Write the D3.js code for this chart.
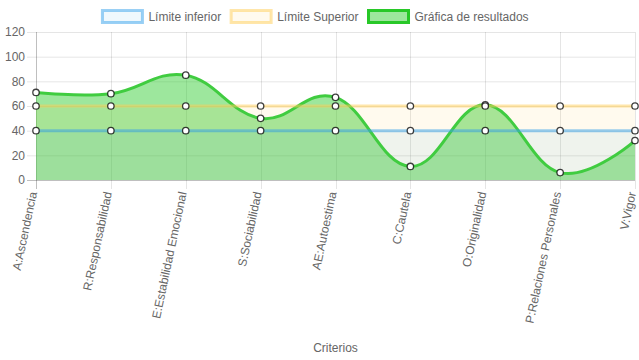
<!DOCTYPE html>
<html>
<head>
<meta charset="utf-8">
<script src="https://cdn.jsdelivr.net/npm/d3@7"></script>
<style>
  body { margin: 0; background: #fff; }
  svg { display: block; font-family: "Liberation Sans", Arial, Helvetica, sans-serif; }
</style>
</head>
<body>
<div id="container"></div>
<script>
"use strict";

// chart data
var criterios = ["A:Ascendencia", "R:Responsabilidad", "E:Estabilidad Emocional", "S:Sociabilidad",
    "AE:Autoestima", "C:Cautela", "O:Originalidad", "P:Relaciones Personales", "V:Vigor"];
var limiteInferior = [40, 40, 40, 40, 40, 40, 40, 40, 40];
var limiteSuperior = [60, 60, 60, 60, 60, 60, 60, 60, 60];
var resultados = [71, 70, 85, 50, 67, 11, 61, 6, 32];
var yTicks = [0, 20, 40, 60, 80, 100, 120];

var width = 639;
var height = 360;
var plotLeft = 36, plotRight = 635, plotTop = 32, plotBottom = 180;
var textColour = "#666";

var datasets = [
    { label: "Límite inferior", values: limiteInferior, stroke: "rgba(54,162,235,0.5)", fill: "rgba(54,162,235,0.08)", curve: d3.curveLinear },
    { label: "Límite Superior", values: limiteSuperior, stroke: "rgba(255,205,86,0.5)", fill: "rgba(255,205,86,0.1)", curve: d3.curveLinear },
    { label: "Gráfica de resultados", values: resultados, stroke: "rgb(64,204,64)", fill: "rgba(50,205,50,0.48)", legendStroke: "rgb(40,200,40)", curve: d3.curveCardinal.tension(-0.2) }
];

var svg = d3.select("#container").append("svg")
    .attr("width", width)
    .attr("height", height);

var x = d3.scalePoint().domain(criterios).range([plotLeft, plotRight]).padding(0);
var y = d3.scaleLinear().domain([0, 120]).range([plotBottom, plotTop]);

//grid lines
var grid = svg.append("g");
grid.selectAll("line.h").data(yTicks).enter().append("line")
    .attr("x1", plotLeft - 9).attr("x2", plotRight)
    .attr("y1", function (d) { return y(d) + 0.5; })
    .attr("y2", function (d) { return y(d) + 0.5; })
    .style("stroke", function (d) { return d === 0 ? "rgba(0,0,0,0.25)" : "rgba(0,0,0,0.1)"; });
grid.selectAll("line.v").data(criterios).enter().append("line")
    .attr("x1", function (d) { return Math.round(x(d)) + 0.5; })
    .attr("x2", function (d) { return Math.round(x(d)) + 0.5; })
    .attr("y1", plotTop).attr("y2", plotBottom + 9)
    .style("stroke", function (d, i) { return i === 0 ? "rgba(0,0,0,0.25)" : "rgba(0,0,0,0.1)"; });

//y labels
svg.append("g").selectAll("text").data(yTicks).enter().append("text")
    .attr("x", 25).attr("y", function (d) { return y(d); })
    .attr("dy", "0.35em")
    .attr("text-anchor", "end")
    .style("font-size", "12px").style("fill", textColour)
    .text(function (d) { return d; });

//x labels, rotated
svg.append("g").selectAll("text").data(criterios).enter().append("text")
    .attr("transform", function (d) { return "translate(" + (x(d) - 2.5) + "," + (plotBottom + 12) + ") rotate(-78)"; })
    .attr("dy", "0.3em")
    .attr("text-anchor", "end")
    .style("font-size", "12px").style("fill", textColour)
    .text(function (d) { return d; });

//axis title
svg.append("text")
    .attr("x", (plotLeft + plotRight) / 2).attr("y", 352)
    .attr("text-anchor", "middle")
    .style("font-size", "12px").style("fill", textColour)
    .text("Criterios");

//fills, last dataset first
var reversed = datasets.slice().reverse();
reversed.forEach(function (ds) {
    var area = d3.area()
        .x(function (d, i) { return x(criterios[i]); })
        .y0(y(0))
        .y1(function (d) { return y(d); })
        .curve(ds.curve);
    svg.append("path").datum(ds.values)
        .attr("d", area)
        .style("fill", ds.fill);
});

//lines and points
reversed.forEach(function (ds) {
    var line = d3.line()
        .x(function (d, i) { return x(criterios[i]); })
        .y(function (d) { return y(d); })
        .curve(ds.curve);
    svg.append("path").datum(ds.values)
        .attr("d", line)
        .style("fill", "none")
        .style("stroke", ds.stroke)
        .style("stroke-width", 3);
    svg.append("g").selectAll("circle").data(ds.values).enter().append("circle")
        .attr("cx", function (d, i) { return x(criterios[i]); })
        .attr("cy", function (d) { return y(d); })
        .attr("r", 3.2)
        .style("fill", "#fff")
        .style("stroke", "rgba(0,0,0,0.75)")
        .style("stroke-width", 1.3);
});

//legend
var legend = svg.append("g");
var items = legend.selectAll("g").data(datasets).enter().append("g");
items.append("rect")
    .attr("width", 40).attr("height", 12)
    .style("fill", function (d) { return d.fill; })
    .style("stroke", function (d) { return d.legendStroke || d.stroke; })
    .style("stroke-width", 3);
items.append("text")
    .attr("x", 46).attr("y", 6)
    .attr("dy", "0.35em")
    .style("font-size", "12px").style("fill", textColour)
    .text(function (d) { return d.label; });

var widths = [];
items.each(function () {
    widths.push(d3.select(this).select("text").node().getComputedTextLength());
});
var total = 0;
widths.forEach(function (w) { total += 46 + w + 10; });
var pos = (width - total) / 2 + 1;
items.attr("transform", function (d, i) {
    var t = "translate(" + pos + ",10.5)";
    pos += 46 + widths[i] + 10;
    return t;
});
</script>
</body>
</html>
